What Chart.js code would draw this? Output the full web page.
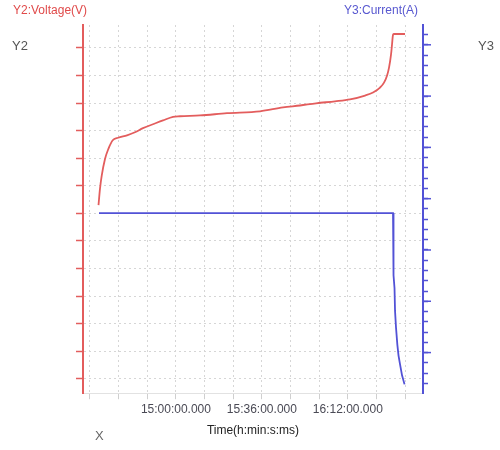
<!DOCTYPE html>
<html>
<head>
<meta charset="utf-8">
<script src="https://cdn.jsdelivr.net/npm/chart.js@4.4.1/dist/chart.umd.min.js"></script>
<style>
  html, body { margin: 0; padding: 0; background: #fff; }
  #wrap { position: relative; width: 500px; height: 450px; font-family: 'Liberation Sans', Arial, sans-serif; }
  .lbl { position: absolute; font-size: 12px; line-height: 14px; white-space: nowrap; }
</style>
</head>
<body>
<div id="wrap">
  <canvas id="chart" width="500" height="450"></canvas>
  <span class="lbl" style="left:13px;top:3px;color:#e04a4a">Y2:Voltage(V)</span>
  <span class="lbl" style="left:12px;top:39px;color:#555;font-size:13px">Y2</span>
  <span class="lbl" style="left:344px;top:3px;color:#5858d0">Y3:Current(A)</span>
  <span class="lbl" style="left:478px;top:39px;color:#555;font-size:13px">Y3</span>
  <span class="lbl" style="left:95px;top:429px;color:#666;font-size:13px">X</span>
</div>
<script>
// --- data ---
const voltTimes = ['14:27:34', '14:28:11', '14:28:54', '14:30:17', '14:31:40', '14:33:31', '14:35:44',
  '14:39:30', '14:42:51', '14:46:12', '14:50:23', '14:54:35', '14:58:46', '15:01:42', '15:10:05',
  '15:21:23', '15:35:13', '15:44:51', '15:51:59', '15:58:41', '16:06:38', '16:12:55', '16:19:13',
  '16:22:34', '16:25:29', '16:27:10', '16:28:25', '16:29:16', '16:30:06', '16:30:31', '16:30:56',
  '16:31:22', '16:35:58'];
const voltValues = [3.830, 3.889, 3.936, 3.997, 4.033, 4.065, 4.074,
  4.083, 4.094, 4.109, 4.123, 4.137, 4.150, 4.152, 4.155,
  4.163, 4.170, 4.184, 4.191, 4.199, 4.206, 4.213, 4.227,
  4.238, 4.256, 4.274, 4.299, 4.328, 4.375, 4.411, 4.447,
  4.450, 4.450];

const currTimes = ['14:27:46', '16:30:56', '16:31:09', '16:31:34', '16:31:47', '16:32:12',
  '16:32:45', '16:33:15', '16:33:53', '16:34:43', '16:35:46'];
const currValues = [1.86, 1.86, 1.254, 1.129, 0.906, 0.742,
  0.578, 0.471, 0.384, 0.278, 0.19];

const xLabelTicks = ['15:00:00.000', '15:36:00.000', '16:12:00.000'];

const RED = '#e35d5d';
const BLUE = '#5252d6';
const GRID = '#d6d6d6';

// 'hh:mm:ss' -> minutes since midnight
function toMin(s) {
  const [h, m, sec] = s.split(':').map(Number);
  return h * 60 + m + sec / 60;
}
function fmtTime(v) {
  const totalSec = Math.round(v * 60);
  const h = Math.floor(totalSec / 3600);
  const m = Math.floor((totalSec % 3600) / 60);
  const s = totalSec % 60;
  const p = n => String(n).padStart(2, '0');
  return `${h}:${p(m)}:${p(s)}.000`;
}

// longer marks on every 0.5 A of the current axis
const majorTicks = {
  id: 'majorTicks',
  afterDraw(chart) {
    const sc = chart.scales.y1;
    const ctx = chart.ctx;
    ctx.save();
    ctx.strokeStyle = BLUE;
    ctx.lineWidth = 1.5;
    sc.ticks.forEach(t => {
      if (Math.abs(t.value * 2 - Math.round(t.value * 2)) > 1e-6) return;
      const y = sc.getPixelForValue(t.value);
      ctx.beginPath();
      ctx.moveTo(sc.left, y);
      ctx.lineTo(sc.left + 8, y);
      ctx.stroke();
    });
    ctx.restore();
  }
};

new Chart(document.getElementById('chart'), {
  type: 'line',
  data: {
    datasets: [
      {
        label: 'Voltage(V)',
        data: voltTimes.map((t, i) => ({ x: toMin(t), y: voltValues[i] })),
        borderColor: RED,
        borderWidth: 1.8,
        pointRadius: 0,
        cubicInterpolationMode: 'monotone',
        yAxisID: 'y',
      },
      {
        label: 'Current(A)',
        data: currTimes.map((t, i) => ({ x: toMin(t), y: currValues[i] })),
        borderColor: BLUE,
        borderWidth: 1.8,
        pointRadius: 0,
        tension: 0,
        yAxisID: 'y1',
      },
    ],
  },
  options: {
    responsive: false,
    animation: false,
    layout: { padding: { left: 76, right: 72, top: 25, bottom: 8 } },
    plugins: { legend: { display: false }, tooltip: { enabled: false } },
    scales: {
      x: {
        type: 'linear',
        min: 861.07,
        max: 1003.5,
        grid: { color: GRID, tickColor: '#cfcfcf', tickLength: 6, drawTicks: true },
        border: { color: '#e2e2e2', dash: [2, 3] },
        ticks: {
          stepSize: 12,
          autoSkip: false,
          maxRotation: 0,
          includeBounds: false,
          padding: 3,
          color: '#4a4a55',
          font: { family: "'Liberation Sans', Arial", size: 12 },
          callback: v => xLabelTicks.includes(fmtTime(v)) ? fmtTime(v) : '',
        },
        title: {
          display: true,
          text: 'Time(h:min:s:ms)',
          color: '#222',
          font: { family: "'Liberation Sans', Arial", size: 12 },
          padding: { top: 4, bottom: 4 },
        },
      },
      y: {
        position: 'left',
        min: 3.1483,
        max: 4.4827,
        grid: { color: GRID, tickColor: RED, tickLength: 7, tickWidth: 1.5 },
        border: { color: RED, width: 2, dash: [2, 3] },
        ticks: { display: false, stepSize: 0.1, includeBounds: false },
      },
      y1: {
        position: 'right',
        min: 0.104,
        max: 3.693,
        grid: { drawOnChartArea: false, tickColor: BLUE, tickLength: 5, tickWidth: 1.5 },
        border: { color: BLUE, width: 2 },
        ticks: { display: false, stepSize: 0.1, includeBounds: false },
      },
    },
  },
  plugins: [majorTicks],
});
</script>
</body>
</html>
